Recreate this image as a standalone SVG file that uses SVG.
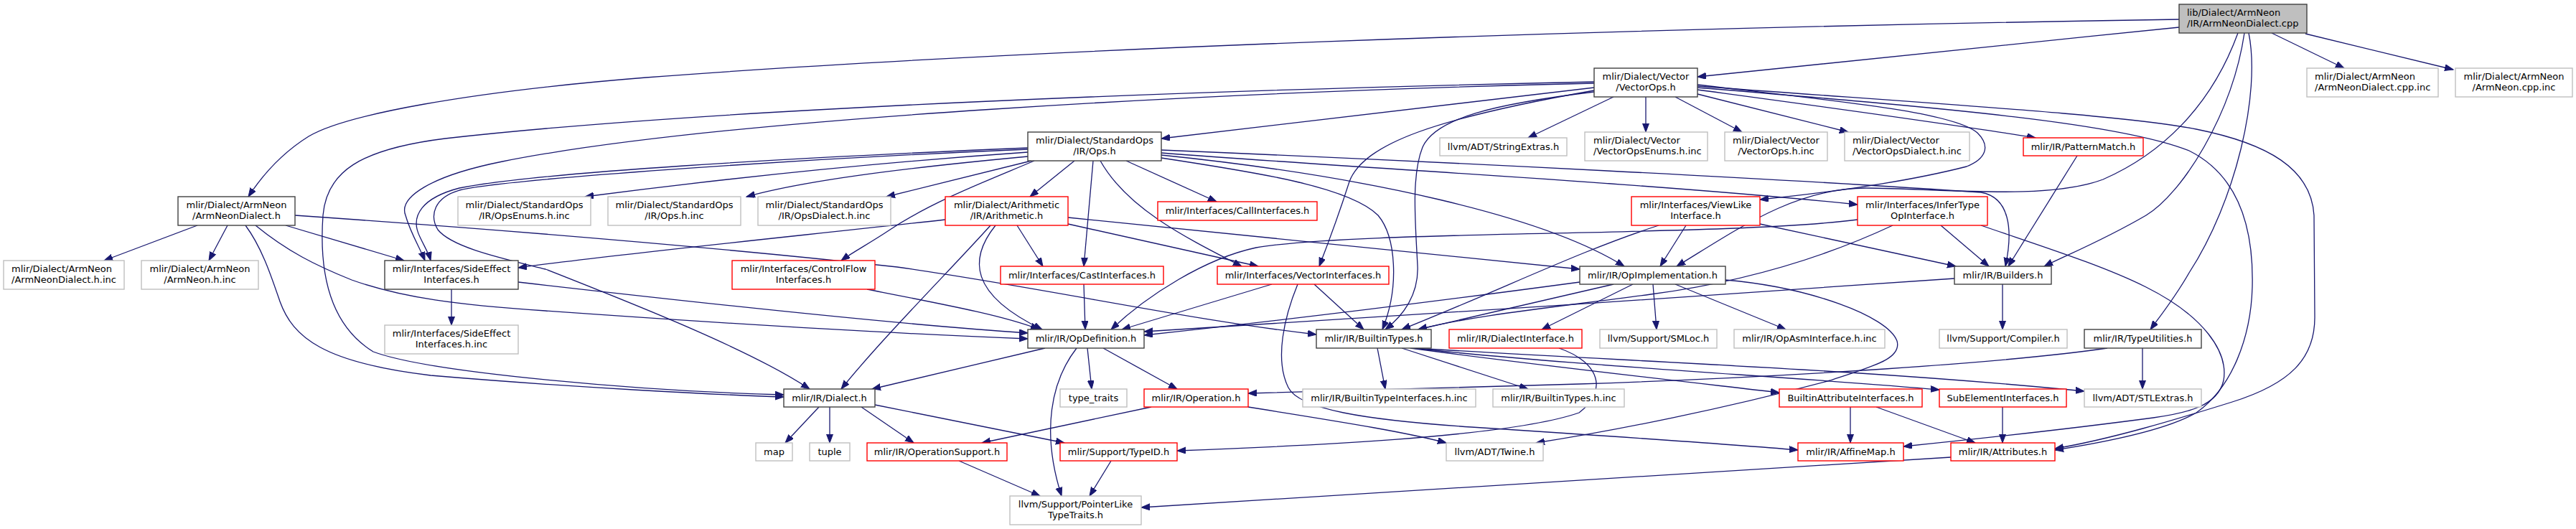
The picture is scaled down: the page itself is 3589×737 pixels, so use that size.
<svg xmlns="http://www.w3.org/2000/svg" width="3589" height="737" viewBox="0 0 3589 737">
<style>
.n rect{fill:#fff;stroke-width:1.4}
.b rect{stroke:#404040}
.r rect{stroke:#ff0000}
.g rect{stroke:#bfbfbf}
.root rect{fill:#bfbfbf;stroke:#404040}
text{font-family:"DejaVu Sans","Liberation Sans",sans-serif;font-size:13px;fill:#000}
.c{text-anchor:middle}
#edges path{fill:none;stroke:#191970;stroke-width:1.3;marker-end:url(#ah)}
</style>
<defs>
<marker id="ah" markerUnits="userSpaceOnUse" markerWidth="14" markerHeight="11" refX="12" refY="4.5" orient="auto">
<path d="M0,0 L12,4.5 L0,9 z" fill="#191970" stroke="#191970" stroke-width="1"/>
</marker>
</defs>
<rect width="3589" height="737" fill="#fff"/>
<g id="edges">
<path d="M3036,27 C2200,40 1400,70 900,108 C650,128 480,160 430,190 C390,215 365,245 346,274"/>
<path d="M3036,38 C2800,62 2550,88 2365,107"/>
<path d="M3133,46 C3150,130 3115,280 3050,380 C3030,415 3010,440 2996,459"/>
<path d="M3118,46 C3080,150 3010,215 2930,250 C2850,280 2700,262 2600,262 C2500,262 2420,320 2336,371"/>
<path d="M3127,46 C3110,160 3040,270 2990,300 C2930,335 2880,355 2848,371"/>
<path d="M3165,46 L3266,95"/>
<path d="M3212,47 L3418,97"/>
<path d="M275,314 L145,363"/>
<path d="M317,314 L291,363"/>
<path d="M398,314 L563,363"/>
<path d="M342,314 C365,345 378,385 390,420 C408,470 450,505 600,523 C800,540 1000,550 1092,553"/>
<path d="M356,314 C400,350 440,370 490,390 C560,415 640,425 760,433 C1000,450 1250,465 1432,472"/>
<path d="M411,300 C700,320 1000,345 1250,372 C1450,400 1650,445 1834,466"/>
<path d="M2221,122 C2000,148 1800,172 1618,193"/>
<path d="M2248,135 L2129,192"/>
<path d="M2293,135 L2293,184"/>
<path d="M2334,135 L2427,184"/>
<path d="M2365,131 L2575,184"/>
<path d="M2365,125 C2550,150 2700,170 2836,192"/>
<path d="M2365,118 C2550,140 2720,155 2755,185 C2775,205 2765,222 2740,232 C2650,255 2550,268 2452,278"/>
<path d="M2221,126 C2000,165 1900,200 1880,253 C1865,300 1850,340 1838,371"/>
<path d="M2221,128 C2080,145 2000,165 1982,205 C1966,245 1972,310 1975,370 C1977,410 1955,440 1930,459"/>
<path d="M2221,116 C1700,128 1000,165 700,225 C600,245 555,275 565,300 C572,325 585,345 592,363"/>
<path d="M2221,114 C1700,125 1000,150 620,193 C500,208 455,240 450,300 C445,370 455,450 520,490 C600,520 900,545 1092,550"/>
<path d="M2365,120 C2700,145 2960,160 3060,180 C3160,200 3220,235 3224,300 L3225,440 C3226,500 3190,535 3110,560 C3030,585 2940,612 2863,625"/>
<path d="M2365,122 C2700,150 2950,170 3050,210 C3120,245 3140,320 3138,400 C3136,470 3110,540 3060,575 C3020,598 2940,615 2863,627"/>
<path d="M2760,314 C2850,345 2930,370 2990,400 C3070,440 3105,490 3098,530 C3090,565 3050,575 3000,582 C2880,598 2750,612 2652,622"/>
<path d="M1432,212 C1200,228 1000,250 815,274"/>
<path d="M1432,218 C1250,235 1120,252 1040,274"/>
<path d="M1437,224 L1235,274"/>
<path d="M1432,206 C1100,220 750,240 640,262 C590,275 570,300 585,330 C592,345 597,352 600,363"/>
<path d="M1432,208 C1100,222 700,250 640,265 C605,275 598,300 610,320 C630,345 700,360 760,375 C900,430 1050,490 1128,542"/>
<path d="M1441,224 C1380,250 1300,280 1240,320 C1210,340 1190,350 1172,363"/>
<path d="M1497,224 L1435,274"/>
<path d="M1523,224 L1510,371"/>
<path d="M1533,224 C1570,290 1650,330 1730,371"/>
<path d="M1569,224 L1695,281"/>
<path d="M1618,213 C1900,235 2300,255 2588,285"/>
<path d="M1618,209 C2000,225 2500,250 2760,268 C2800,275 2805,320 2794,371"/>
<path d="M1618,216 C1900,245 2150,300 2263,371"/>
<path d="M1618,220 C1750,240 1880,260 1920,300 C1945,330 1950,400 1926,459"/>
<path d="M1317,306 C1100,330 850,355 722,373"/>
<path d="M1380,314 C1330,370 1230,470 1172,542"/>
<path d="M1387,314 C1350,360 1350,410 1452,459"/>
<path d="M1417,314 L1453,371"/>
<path d="M1488,303 C1750,330 2000,355 2201,375"/>
<path d="M1488,312 L1753,371"/>
<path d="M629,403 L629,453"/>
<path d="M722,393 C1000,425 1250,452 1432,464"/>
<path d="M1208,403 C1320,425 1400,440 1448,459"/>
<path d="M1510,396 L1512,459"/>
<path d="M1772,396 L1563,459"/>
<path d="M1831,396 L1900,459"/>
<path d="M1808,396 C1790,440 1775,500 1795,540 C1810,570 1900,585 2050,595 C2250,608 2400,618 2505,627"/>
<path d="M2201,393 C2000,420 1800,445 1594,467"/>
<path d="M2248,396 L1976,459"/>
<path d="M2275,396 L2148,459"/>
<path d="M2303,396 L2308,459"/>
<path d="M2334,396 L2488,459"/>
<path d="M2404,390 C2520,400 2630,440 2643,475 C2650,500 2610,510 2550,530 C2400,570 2250,600 2140,617"/>
<path d="M2723,388 C2400,410 1900,445 1594,462"/>
<path d="M2790,396 L2790,459"/>
<path d="M2894,217 L2798,371"/>
<path d="M2452,312 L2725,371"/>
<path d="M2349,314 L2313,371"/>
<path d="M2311,314 C2200,350 2100,400 1953,459"/>
<path d="M2704,314 L2771,371"/>
<path d="M2637,314 C2560,350 2450,390 2300,410 C2150,430 2050,440 1976,459"/>
<path d="M2588,306 C2400,330 1900,320 1750,345 C1680,360 1600,410 1548,459"/>
<path d="M2936,485 C2800,505 2500,525 2200,535 C2000,540 1850,545 1739,548"/>
<path d="M2985,485 L2985,542"/>
<path d="M1919,485 L1930,542"/>
<path d="M1953,485 L2129,542"/>
<path d="M1965,485 C2150,510 2350,532 2479,547"/>
<path d="M1968,485 C2200,510 2500,525 2702,543"/>
<path d="M1970,485 C2300,505 2600,515 2904,545"/>
<path d="M2172,485 C2230,505 2240,545 2200,575 C2100,610 1800,622 1640,628"/>
<path d="M1604,567 L1368,617"/>
<path d="M1739,567 C1850,585 1950,600 2015,617"/>
<path d="M1456,485 L1215,542"/>
<path d="M1515,485 L1521,542"/>
<path d="M1537,485 L1640,542"/>
<path d="M1500,485 C1465,530 1450,600 1479,691"/>
<path d="M1141,567 L1094,617"/>
<path d="M1156,567 L1156,617"/>
<path d="M1200,567 L1273,617"/>
<path d="M1219,564 L1483,617"/>
<path d="M1336,642 L1449,691"/>
<path d="M1548,642 L1518,691"/>
<path d="M2578,567 L2578,617"/>
<path d="M2614,567 L2752,617"/>
<path d="M2790,567 L2790,617"/>
<path d="M2718,637 C2300,665 1900,690 1590,707"/>
</g>
<g id="cpp" class="n root"><rect x="3036" y="6" width="178" height="40"/><text x="3047" y="22">lib/Dialect/ArmNeon</text><text x="3047" y="37">/IR/ArmNeonDialect.cpp</text></g>
<g id="cppinc" class="n g"><rect x="3214" y="95" width="183" height="40"/><text x="3225" y="111">mlir/Dialect/ArmNeon</text><text x="3225" y="126">/ArmNeonDialect.cpp.inc</text></g>
<g id="armcppinc" class="n g"><rect x="3421" y="95" width="163" height="40"/><text class="c" x="3502.5" y="111">mlir/Dialect/ArmNeon</text><text class="c" x="3502.5" y="126">/ArmNeon.cpp.inc</text></g>
<g id="vops" class="n b"><rect x="2221" y="95" width="144" height="40"/><text class="c" x="2293" y="111">mlir/Dialect/Vector</text><text class="c" x="2293" y="126">/VectorOps.h</text></g>
<g id="stdops" class="n b"><rect x="1432" y="184" width="186" height="40"/><text class="c" x="1525" y="200">mlir/Dialect/StandardOps</text><text class="c" x="1525" y="215">/IR/Ops.h</text></g>
<g id="strext" class="n g"><rect x="2006" y="192" width="177" height="25"/><text class="c" x="2094.5" y="209">llvm/ADT/StringExtras.h</text></g>
<g id="voenums" class="n g"><rect x="2208" y="184" width="171" height="40"/><text x="2220" y="200">mlir/Dialect/Vector</text><text x="2220" y="215">/VectorOpsEnums.h.inc</text></g>
<g id="vohinc" class="n g"><rect x="2403" y="184" width="143" height="40"/><text class="c" x="2474.5" y="200">mlir/Dialect/Vector</text><text class="c" x="2474.5" y="215">/VectorOps.h.inc</text></g>
<g id="vodial" class="n g"><rect x="2570" y="184" width="174" height="40"/><text x="2581" y="200">mlir/Dialect/Vector</text><text x="2581" y="215">/VectorOpsDialect.h.inc</text></g>
<g id="patmatch" class="n r"><rect x="2819" y="192" width="167" height="25"/><text class="c" x="2902.5" y="209">mlir/IR/PatternMatch.h</text></g>
<g id="andh" class="n b"><rect x="248" y="274" width="163" height="40"/><text class="c" x="329.5" y="290">mlir/Dialect/ArmNeon</text><text class="c" x="329.5" y="305">/ArmNeonDialect.h</text></g>
<g id="opsenums" class="n g"><rect x="638" y="274" width="185" height="40"/><text class="c" x="730.5" y="290">mlir/Dialect/StandardOps</text><text class="c" x="730.5" y="305">/IR/OpsEnums.h.inc</text></g>
<g id="opshinc" class="n g"><rect x="847" y="274" width="185" height="40"/><text class="c" x="939.5" y="290">mlir/Dialect/StandardOps</text><text class="c" x="939.5" y="305">/IR/Ops.h.inc</text></g>
<g id="opsdial" class="n g"><rect x="1056" y="274" width="185" height="40"/><text class="c" x="1148.5" y="290">mlir/Dialect/StandardOps</text><text class="c" x="1148.5" y="305">/IR/OpsDialect.h.inc</text></g>
<g id="arith" class="n r"><rect x="1317" y="274" width="171" height="40"/><text class="c" x="1402.5" y="290">mlir/Dialect/Arithmetic</text><text class="c" x="1402.5" y="305">/IR/Arithmetic.h</text></g>
<g id="callif" class="n r"><rect x="1613" y="281" width="222" height="26"/><text class="c" x="1724" y="298">mlir/Interfaces/CallInterfaces.h</text></g>
<g id="viewlike" class="n r"><rect x="2273" y="274" width="179" height="40"/><text class="c" x="2362.5" y="290">mlir/Interfaces/ViewLike</text><text class="c" x="2362.5" y="305">Interface.h</text></g>
<g id="infertype" class="n r"><rect x="2588" y="274" width="181" height="40"/><text class="c" x="2678.5" y="290">mlir/Interfaces/InferType</text><text class="c" x="2678.5" y="305">OpInterface.h</text></g>
<g id="andhinc" class="n g"><rect x="5" y="363" width="168" height="40"/><text x="16" y="379">mlir/Dialect/ArmNeon</text><text x="16" y="394">/ArmNeonDialect.h.inc</text></g>
<g id="anhinc" class="n g"><rect x="197" y="363" width="163" height="40"/><text class="c" x="278.5" y="379">mlir/Dialect/ArmNeon</text><text class="c" x="278.5" y="394">/ArmNeon.h.inc</text></g>
<g id="sideeff" class="n b"><rect x="536" y="363" width="186" height="40"/><text class="c" x="629" y="379">mlir/Interfaces/SideEffect</text><text class="c" x="629" y="394">Interfaces.h</text></g>
<g id="ctrlflow" class="n r"><rect x="1020" y="363" width="199" height="40"/><text class="c" x="1119.5" y="379">mlir/Interfaces/ControlFlow</text><text class="c" x="1119.5" y="394">Interfaces.h</text></g>
<g id="castif" class="n r"><rect x="1394" y="371" width="227" height="25"/><text class="c" x="1507.5" y="388">mlir/Interfaces/CastInterfaces.h</text></g>
<g id="vecif" class="n r"><rect x="1696" y="371" width="239" height="25"/><text class="c" x="1815.5" y="388">mlir/Interfaces/VectorInterfaces.h</text></g>
<g id="opimpl" class="n b"><rect x="2201" y="371" width="203" height="25"/><text class="c" x="2302.5" y="388">mlir/IR/OpImplementation.h</text></g>
<g id="builders" class="n b"><rect x="2723" y="371" width="135" height="25"/><text class="c" x="2790.5" y="388">mlir/IR/Builders.h</text></g>
<g id="sehinc" class="n g"><rect x="536" y="453" width="186" height="40"/><text class="c" x="629" y="469">mlir/Interfaces/SideEffect</text><text class="c" x="629" y="484">Interfaces.h.inc</text></g>
<g id="opdef" class="n b"><rect x="1432" y="459" width="162" height="26"/><text class="c" x="1513" y="476">mlir/IR/OpDefinition.h</text></g>
<g id="btypes" class="n b"><rect x="1834" y="459" width="160" height="26"/><text class="c" x="1914" y="476">mlir/IR/BuiltinTypes.h</text></g>
<g id="dialif" class="n r"><rect x="2019" y="459" width="185" height="26"/><text class="c" x="2111.5" y="476">mlir/IR/DialectInterface.h</text></g>
<g id="smloc" class="n g"><rect x="2229" y="459" width="163" height="26"/><text class="c" x="2310.5" y="476">llvm/Support/SMLoc.h</text></g>
<g id="opasm" class="n g"><rect x="2416" y="459" width="210" height="26"/><text class="c" x="2521" y="476">mlir/IR/OpAsmInterface.h.inc</text></g>
<g id="compiler" class="n g"><rect x="2702" y="459" width="178" height="26"/><text class="c" x="2791" y="476">llvm/Support/Compiler.h</text></g>
<g id="typeutil" class="n b"><rect x="2904" y="459" width="163" height="26"/><text class="c" x="2985.5" y="476">mlir/IR/TypeUtilities.h</text></g>
<g id="dialect" class="n b"><rect x="1092" y="542" width="127" height="25"/><text class="c" x="1155.5" y="559">mlir/IR/Dialect.h</text></g>
<g id="typetraits" class="n g"><rect x="1477" y="542" width="93" height="25"/><text class="c" x="1523.5" y="559">type_traits</text></g>
<g id="operation" class="n r"><rect x="1594" y="542" width="145" height="25"/><text class="c" x="1666.5" y="559">mlir/IR/Operation.h</text></g>
<g id="btihinc" class="n g"><rect x="1815" y="542" width="241" height="25"/><text class="c" x="1935.5" y="559">mlir/IR/BuiltinTypeInterfaces.h.inc</text></g>
<g id="bthinc" class="n g"><rect x="2080" y="542" width="183" height="25"/><text class="c" x="2171.5" y="559">mlir/IR/BuiltinTypes.h.inc</text></g>
<g id="bai" class="n r"><rect x="2479" y="542" width="199" height="25"/><text class="c" x="2578.5" y="559">BuiltinAttributeInterfaces.h</text></g>
<g id="subelem" class="n r"><rect x="2702" y="542" width="177" height="25"/><text class="c" x="2790.5" y="559">SubElementInterfaces.h</text></g>
<g id="stlext" class="n g"><rect x="2904" y="542" width="163" height="25"/><text class="c" x="2985.5" y="559">llvm/ADT/STLExtras.h</text></g>
<g id="map" class="n g"><rect x="1053" y="617" width="51" height="25"/><text class="c" x="1078.5" y="634">map</text></g>
<g id="tuple" class="n g"><rect x="1128" y="617" width="56" height="25"/><text class="c" x="1156" y="634">tuple</text></g>
<g id="opsupport" class="n r"><rect x="1208" y="617" width="195" height="25"/><text class="c" x="1305.5" y="634">mlir/IR/OperationSupport.h</text></g>
<g id="typeid" class="n r"><rect x="1477" y="617" width="163" height="25"/><text class="c" x="1558.5" y="634">mlir/Support/TypeID.h</text></g>
<g id="twine" class="n g"><rect x="2015" y="617" width="135" height="25"/><text class="c" x="2082.5" y="634">llvm/ADT/Twine.h</text></g>
<g id="affinemap" class="n r"><rect x="2505" y="617" width="147" height="25"/><text class="c" x="2578.5" y="634">mlir/IR/AffineMap.h</text></g>
<g id="attributes" class="n r"><rect x="2718" y="617" width="145" height="25"/><text class="c" x="2790.5" y="634">mlir/IR/Attributes.h</text></g>
<g id="ptrlike" class="n g"><rect x="1407" y="691" width="183" height="40"/><text class="c" x="1498.5" y="707">llvm/Support/PointerLike</text><text class="c" x="1498.5" y="722">TypeTraits.h</text></g>
</svg>
